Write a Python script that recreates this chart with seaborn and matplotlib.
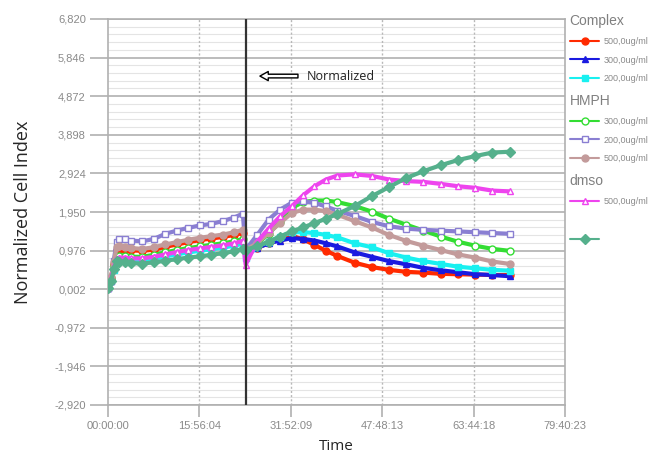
import pandas as pd
import seaborn as sns
import matplotlib.pyplot as plt
from matplotlib.lines import Line2D
from matplotlib.ticker import FixedLocator, FuncFormatter

# Hours since start of the run.
hours = [0, 0.5, 1, 1.5, 2, 3, 4, 6, 8, 10, 12, 14, 16, 18, 20, 22, 23.5, 24,
         26, 28, 30, 32, 34, 36, 38, 40,
         43, 46, 49, 52, 55, 58, 61, 64, 67, 70]

complex_500 = [0.03, 0.28, 0.65, 1.00, 1.02, 1.00, 0.98, 0.97, 1.00, 1.07, 1.13, 1.19, 1.24, 1.28, 1.32, 1.37, 1.42, 1.00,
               1.05, 1.16, 1.27, 1.35, 1.26, 1.12, 0.97, 0.84,
               0.67, 0.56, 0.49, 0.44, 0.42, 0.39, 0.38, 0.37, 0.36, 0.36]
complex_300 = [0.02, 0.22, 0.52, 0.75, 0.78, 0.78, 0.76, 0.76, 0.80, 0.86, 0.91, 0.96, 1.00, 1.04, 1.08, 1.13, 1.18, 1.00,
               1.04, 1.16, 1.23, 1.29, 1.27, 1.23, 1.16, 1.08,
               0.93, 0.82, 0.71, 0.63, 0.54, 0.48, 0.43, 0.38, 0.36, 0.33]
complex_200 = [0.02, 0.20, 0.48, 0.73, 0.75, 0.75, 0.73, 0.73, 0.77, 0.83, 0.88, 0.93, 0.97, 1.01, 1.05, 1.10, 1.15, 0.78,
               1.08, 1.20, 1.33, 1.44, 1.44, 1.42, 1.37, 1.31,
               1.16, 1.06, 0.91, 0.80, 0.71, 0.64, 0.57, 0.53, 0.49, 0.47]
hmph_300 = [0.03, 0.25, 0.58, 0.81, 0.85, 0.85, 0.82, 0.82, 0.87, 0.93, 0.99, 1.04, 1.08, 1.12, 1.16, 1.21, 1.27, 1.00,
            1.14, 1.40, 1.70, 2.05, 2.20, 2.24, 2.24, 2.20,
            2.10, 1.96, 1.78, 1.63, 1.48, 1.33, 1.20, 1.10, 1.02, 0.97]
hmph_200 = [0.03, 0.21, 0.72, 1.19, 1.27, 1.27, 1.23, 1.21, 1.27, 1.40, 1.48, 1.55, 1.61, 1.65, 1.72, 1.81, 1.91, 1.00,
            1.37, 1.76, 2.01, 2.18, 2.22, 2.18, 2.09, 1.98,
            1.85, 1.70, 1.59, 1.53, 1.50, 1.48, 1.46, 1.44, 1.42, 1.40]
hmph_500 = [0.03, 0.30, 0.68, 1.06, 1.08, 1.06, 1.04, 1.02, 1.06, 1.13, 1.19, 1.25, 1.30, 1.34, 1.38, 1.44, 1.50, 1.00,
            1.16, 1.42, 1.67, 1.92, 2.01, 2.01, 1.97, 1.88,
            1.72, 1.56, 1.37, 1.22, 1.10, 0.99, 0.88, 0.80, 0.70, 0.64]
dmso_500 = [0.02, 0.23, 0.55, 0.77, 0.80, 0.80, 0.78, 0.78, 0.82, 0.88, 0.94, 0.99, 1.03, 1.07, 1.11, 1.16, 1.22, 0.62,
            1.20, 1.53, 1.84, 2.09, 2.37, 2.60, 2.77, 2.87,
            2.90, 2.86, 2.77, 2.73, 2.71, 2.66, 2.60, 2.56, 2.49, 2.47]
unlabeled = [0.02, 0.20, 0.50, 0.72, 0.70, 0.68, 0.66, 0.65, 0.68, 0.72, 0.76, 0.80, 0.83, 0.87, 0.91, 0.96, 1.02, 1.00,
             1.08, 1.20, 1.33, 1.46, 1.56, 1.67, 1.78, 1.90,
             2.10, 2.35, 2.58, 2.81, 2.98, 3.13, 3.26, 3.36, 3.45, 3.47]

y_ticks = [-2.920, -1.946, -0.972, 0.002, 0.976, 1.950, 2.924, 3.898, 4.872, 5.846, 6.820]
x_ticks = [0, 15.9344, 31.8692, 47.8036, 63.7383, 79.6731]
x_tick_labels = ["00:00:00", "15:56:04", "31:52:09", "47:48:13", "63:44:18", "79:40:23"]
norm_time = 24.0

# (values, colour, marker, hollow?, group, label)
series = [
    (complex_500, "#ff2a00", "o", False, "Complex", "500,0ug/ml"),
    (complex_300, "#1a1ae0", "^", False, "Complex", "300,0ug/ml"),
    (complex_200, "#19f0f0", "s", False, "Complex", "200,0ug/ml"),
    (hmph_300, "#33dd33", "o", True, "HMPH", "300,0ug/ml"),
    (hmph_200, "#8a7fd2", "s", True, "HMPH", "200,0ug/ml"),
    (hmph_500, "#c39b9b", "o", False, "HMPH", "500,0ug/ml"),
    (dmso_500, "#ee44ee", "^", True, "dmso", "500,0ug/ml"),
    (unlabeled, "#55b08c", "D", False, "", ""),
]

sns.set_theme(style="white")
plt.rcParams["font.family"] = ["Liberation Sans", "DejaVu Sans"]

fig = plt.figure(figsize=(6.59, 4.53), dpi=100)
ax = fig.add_axes([108 / 659, 1 - 405 / 453, 457 / 659, 386 / 453])

for values, color, marker, hollow, group, label in series:
    df = pd.DataFrame({"Time": hours, "Index": values})
    sns.lineplot(
        data=df, x="Time", y="Index", ax=ax, color=color, linewidth=3.0,
        marker=marker, markersize=5, markeredgewidth=1.0,
        markerfacecolor="white" if hollow else color, markeredgecolor=color,
        sort=False, zorder=3,
    )

ax.set_xlim(0, x_ticks[-1])
ax.set_ylim(y_ticks[0], y_ticks[-1])

# Grid: solid majors, faint minors (5 per interval), dotted verticals.
ax.yaxis.set_major_locator(FixedLocator(y_ticks))
minor = [y_ticks[0] + i * 0.974 / 5 for i in range(51) if i % 5]
ax.yaxis.set_minor_locator(FixedLocator(minor))
ax.yaxis.set_major_formatter(FuncFormatter(lambda v, _: f"{v:.3f}".replace(".", ",")))
ax.grid(axis="y", which="major", color="#b0b0b0", linewidth=1.2)
ax.grid(axis="y", which="minor", color="#e4e4e4", linewidth=0.8)
ax.set_xticks(x_ticks)
ax.set_xticklabels(x_tick_labels)
for t in x_ticks[1:-1]:
    ax.axvline(t, color="#b8b8b8", linestyle=(0, (1.5, 1.5)), linewidth=1.0, zorder=1)
ax.axvline(norm_time, color="#333333", linewidth=1.6, zorder=4)

for side in ax.spines.values():
    side.set_color("#b0b0b0")
    side.set_linewidth(1.2)

ax.tick_params(axis="y", which="major", length=13, width=1.2, color="#b0b0b0",
               labelsize=8, labelcolor="#8a8a8a", pad=3, left=True)
ax.tick_params(axis="y", which="minor", length=0)
ax.tick_params(axis="x", length=8.5, width=1.2, color="#b0b0b0",
               labelsize=8, labelcolor="#8a8a8a", pad=3, bottom=True)

ax.set_xlabel("Time", fontsize=11, family=["Open Sans", "DejaVu Sans"], labelpad=6)
ax.set_ylabel("Normalized Cell Index", fontsize=13, family=["Open Sans", "DejaVu Sans"], labelpad=16)

ax.annotate(
    "", xy=(26.0, 5.38), xytext=(33.6, 5.38),
    arrowprops=dict(arrowstyle="simple,head_length=0.5,head_width=0.55,tail_width=0.22",
                    fc="white", ec="black", lw=1.0),
)
ax.text(34.6, 5.38, "Normalized", fontsize=9, va="center", ha="left",
        family=["Open Sans", "DejaVu Sans"], color="#222222")

# Legend: one block per group, titled like the original.
groups = {}
for values, color, marker, hollow, group, label in series:
    handle = Line2D([], [], color=color, linewidth=1.5, marker=marker, markersize=5,
                    markerfacecolor="white" if hollow else color, markeredgecolor=color)
    groups.setdefault(group, []).append((handle, label))

anchors = {"Complex": 453 - 10, "HMPH": 453 - 90, "dmso": 453 - 170, "": 453 - 232}
for group, items in groups.items():
    leg = fig.legend(
        [h for h, _ in items], [l for _, l in items],
        title=group if group else None, loc="upper left",
        bbox_to_anchor=(566 / 659, anchors[group] / 453),
        frameon=False, fontsize=6.5, title_fontsize=10,
        handlelength=3.3, handletextpad=0.5, labelspacing=1.05,
        borderaxespad=0, alignment="left",
    )
    if leg.get_title():
        leg.get_title().set_color("#808080")
    for txt in leg.get_texts():
        txt.set_color("#8a8a8a")

fig.savefig("out.png", dpi=100, facecolor="white")
